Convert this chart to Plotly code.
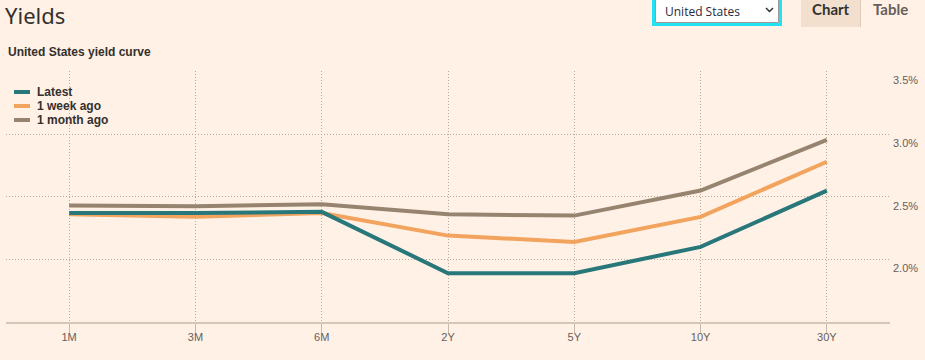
import plotly.graph_objects as go

# ---- data ----
maturities = ["1M", "3M", "6M", "2Y", "5Y", "10Y", "30Y"]
latest = [2.37, 2.37, 2.38, 1.89, 1.89, 2.10, 2.55]
week_ago = [2.36, 2.34, 2.37, 2.19, 2.14, 2.34, 2.78]
month_ago = [2.43, 2.425, 2.44, 2.36, 2.35, 2.55, 2.955]
series_names = ["Latest", "1 week ago", "1 month ago"]
series_colors = ["#28777a", "#f2a35e", "#978470"]
y_ticks = [2.0, 2.5, 3.0, 3.5]

W, H = 925, 360
L, R, T, B = 6, 35, 71, 38
PW, PH = W - L - R, H - T - B


def px(x):
    return (x - L) / PW


def py(y):
    return (H - B - y) / PH


fig = go.Figure()
for name, vals, col in zip(series_names, [latest, week_ago, month_ago], series_colors):
    fig.add_trace(go.Scatter(x=maturities, y=vals, mode="lines", name=name,
                             line=dict(color=col, width=4), hoverinfo="skip",
                             showlegend=False))
# draw order: month behind, latest on top
fig.data = fig.data[::-1]

grid = "#b9a999"
fig.update_layout(
    width=W, height=H,
    margin=dict(l=L, r=R, t=T, b=B),
    paper_bgcolor="#fff1e5", plot_bgcolor="#fff1e5",
    font=dict(family="Liberation Sans, Arial, sans-serif", color="#66605c", size=11),
    xaxis=dict(type="category", range=[-0.5, 6.5], showgrid=True, gridcolor=grid,
               griddash="1px,2px", gridwidth=1, showline=True, linecolor="#d6c6b6",
               linewidth=2, ticks="outside", ticklen=9, tickcolor="#c9b9a9", tickwidth=1,
               ticklabelstandoff=-5,
               tickfont=dict(size=11, color="#66605c"), zeroline=False, fixedrange=True),
    yaxis=dict(range=[1.5, 3.505], side="right", tickvals=y_ticks,
               ticktext=[f"{v:.1f}%" for v in y_ticks], showgrid=True, gridcolor=grid,
               griddash="1px,2px", gridwidth=1, zeroline=False, showline=False, ticks="",
               ticklabelstandoff=2, ticklabelshift=9,
               tickfont=dict(size=11, color="#66605c"), fixedrange=True),
    hovermode=False,
)

shapes = []
annotations = []

# title and subtitle
annotations.append(dict(text="Yields", x=px(3), y=py(15), xref="paper", yref="paper",
                        xanchor="left", yanchor="middle", showarrow=False,
                        font=dict(family="Noto Sans, sans-serif", size=22, color="#33302e")))
annotations.append(dict(text="<b>United States yield curve</b>", x=px(6), y=py(52),
                        xref="paper", yref="paper", xanchor="left", yanchor="middle",
                        showarrow=False,
                        font=dict(family="Liberation Sans, Arial, sans-serif", size=12,
                                  color="#33302e")))

# custom legend
for i, (name, col) in enumerate(zip(series_names, series_colors)):
    yy = 92 + i * 14
    shapes.append(dict(type="line", xref="paper", yref="paper", x0=px(14), x1=px(30),
                       y0=py(yy), y1=py(yy), line=dict(color=col, width=4)))
    annotations.append(dict(text=f"<b>{name}</b>", x=px(35), y=py(yy), xref="paper",
                            yref="paper", xanchor="left", yanchor="middle", showarrow=False,
                            font=dict(family="Liberation Sans, Arial, sans-serif", size=12,
                                      color="#33302e")))

# dropdown
shapes.append(dict(type="rect", xref="paper", yref="paper", x0=px(653.5), x1=px(780.5),
                   y0=py(24.5), y1=py(-2), fillcolor="#ffffff",
                   line=dict(color="#22e1f0", width=3)))
shapes.append(dict(type="rect", xref="paper", yref="paper", x0=px(655.5), x1=px(778.5),
                   y0=py(22.5), y1=py(-2), fillcolor="rgba(0,0,0,0)",
                   line=dict(color="#9a9a9a", width=1)))
annotations.append(dict(text="United States", x=px(663), y=py(11), xref="paper",
                        yref="paper", xanchor="left", yanchor="middle", showarrow=False,
                        font=dict(family="Open Sans, sans-serif", size=12, color="#2a2a3a")))
cx, cy = 769.5, 10
shapes.append(dict(type="path", xref="paper", yref="paper",
                   path=f"M {px(cx-3.5)},{py(cy-2)} L {px(cx)},{py(cy+1.5)} L {px(cx+3.5)},{py(cy-2)}",
                   line=dict(color="#333333", width=1.5)))

# tabs
shapes.append(dict(type="rect", xref="paper", yref="paper", x0=px(801), x1=px(860.5),
                   y0=py(27), y1=py(-2), fillcolor="#f2dfce", line=dict(width=0)))
shapes.append(dict(type="line", xref="paper", yref="paper", x0=px(860.5), x1=px(860.5),
                   y0=py(27), y1=py(-2), line=dict(color="#dccab8", width=1)))
annotations.append(dict(text="<b>Chart</b>", x=px(831), y=py(9), xref="paper", yref="paper",
                        xanchor="center", yanchor="middle", showarrow=False,
                        font=dict(family="Lato, sans-serif", size=15, color="#33302e")))
annotations.append(dict(text="<b>Table</b>", x=px(890), y=py(9), xref="paper", yref="paper",
                        xanchor="center", yanchor="middle", showarrow=False,
                        font=dict(family="Lato, sans-serif", size=15, color="#66605c")))

fig.update_layout(shapes=shapes, annotations=annotations)
fig.write_html("out.html", config={"displayModeBar": False},
               post_script="document.body.style.margin='0';document.body.style.overflow='hidden';")
